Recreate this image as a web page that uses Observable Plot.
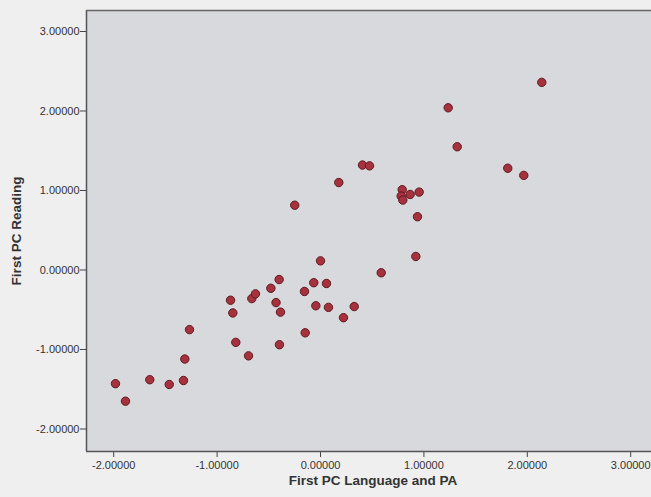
<!DOCTYPE html>
<html><head><meta charset="utf-8">
<script src="https://cdn.jsdelivr.net/npm/d3@7"></script>
<script src="https://cdn.jsdelivr.net/npm/@observablehq/plot@0.6"></script>
<style>
html,body{margin:0;padding:0;background:#efefef;}
#chart{width:651px;height:497px;overflow:hidden;}
</style></head>
<body><div id="chart"></div>
<script>
const languagePA = [-1.983,-1.886,-1.651,-1.463,-1.325,-1.312,-1.267,-0.870,-0.848,-0.819,-0.696,-0.664,-0.629,-0.480,-0.400,-0.430,-0.387,-0.397,-0.249,-0.155,-0.148,-0.065,-0.045,0.000,0.058,0.077,0.177,0.222,0.326,0.406,0.474,0.587,0.790,0.780,0.796,0.867,0.954,0.938,0.922,1.235,1.322,1.811,1.966,2.140];
const reading    = [-1.43,-1.65,-1.38,-1.44,-1.39,-1.12,-0.75,-0.38,-0.54,-0.91,-1.08,-0.36,-0.30,-0.23,-0.12,-0.41,-0.53,-0.94,0.815,-0.27,-0.79,-0.16,-0.45,0.115,-0.17,-0.47,1.10,-0.60,-0.46,1.32,1.31,-0.035,1.01,0.93,0.88,0.95,0.98,0.67,0.17,2.04,1.55,1.28,1.19,2.36];
const xTicks = [-2,-1,0,1,2,3];
const yTicks = [-2,-1,0,1,2,3];
const xLabel = "First PC Language and PA";
const yLabel = "First PC Reading";

const data = languagePA.map((x,i)=>({x, y: reading[i]}));
const fmt = d => d.toFixed(5);

const chart = Plot.plot({
  width: 651, height: 497,
  marginTop: 10, marginLeft: 86, marginBottom: 46, marginRight: 0,
  style: {background: "#efefef", fontFamily: "Liberation Sans, Arial, sans-serif", color: "#333"},
  x: {domain: [-2.263, 3.201]},
  y: {domain: [-2.283, 3.264]},
  marks: [
    Plot.frame({fill: "#d8d9dc", stroke: "none"}),
    Plot.axisX({ticks: xTicks, tickFormat: fmt, tickSize: 6, tickPadding: 4, fontSize: 11, stroke: "#444", label: null}),
    Plot.axisY({ticks: yTicks, tickFormat: fmt, tickSize: 6, tickPadding: 1, fontSize: 11, stroke: "#444", label: null}),
    Plot.text([xLabel], {frameAnchor: "bottom", dy: 33, dx: 4, text: d => d, fontSize: 13.5, fontWeight: "bold", fill: "#333"}),
    Plot.text([yLabel], {frameAnchor: "left", dx: -70, rotate: -90, textAnchor: "middle", text: d => d, fontSize: 13.5, fontWeight: "bold", fill: "#333"}),
    Plot.dot(data, {x: "x", y: "y", r: 4.2, fill: "#a5323d", stroke: "#5e1a21", strokeWidth: 1}),
    Plot.ruleX([-2.263], {stroke: "#555", strokeWidth: 1.5}),
    Plot.ruleY([-2.283], {stroke: "#555", strokeWidth: 1.5}),
    Plot.ruleY([3.264], {stroke: "#666", strokeWidth: 1.5})
  ]
});
document.getElementById("chart").appendChild(chart);
</script>
</body></html>
